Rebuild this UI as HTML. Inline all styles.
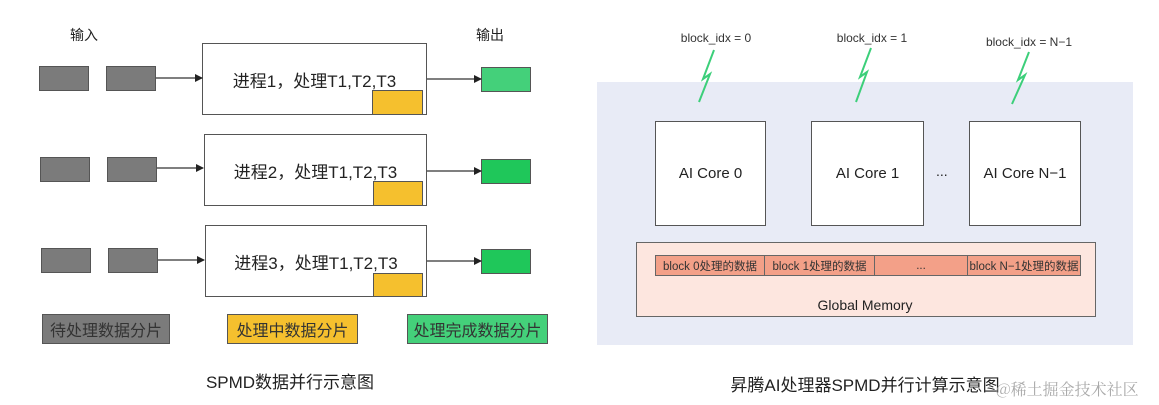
<!DOCTYPE html>
<html><head><meta charset="utf-8"><style>
*{margin:0;padding:0;box-sizing:border-box}
body{width:1159px;height:405px;background:#fff;position:relative;overflow:hidden;font-family:"Liberation Sans","Noto Sans CJK SC",sans-serif;color:#222}
.a{position:absolute}
.g{background:#7b7b7b;border:1.5px solid #555}
.y{background:#f5c02e;border:1.5px solid #555}
.gr{background:#1fc75a;border:1.5px solid #555}
.p{background:#fff;border:1.5px solid #555}
.t{position:absolute;white-space:nowrap}
.c{display:flex;align-items:center;justify-content:center}
</style></head><body>
<div class="t" style="left:70px;top:25px;font-size:14px">输入</div>
<div class="t" style="left:476px;top:25px;font-size:14px">输出</div>

<div class="a g" style="left:39px;top:66px;width:50px;height:25px"></div>
<div class="a g" style="left:106px;top:66px;width:50px;height:25px"></div>
<div class="a g" style="left:40px;top:157px;width:50px;height:25px"></div>
<div class="a g" style="left:107px;top:157px;width:50px;height:25px"></div>
<div class="a g" style="left:41px;top:248px;width:50px;height:25px"></div>
<div class="a g" style="left:108px;top:248px;width:50px;height:25px"></div>

<div class="a p c" style="left:202px;top:43px;width:225px;height:72px;font-size:17px;padding-bottom:0">进程1，处理T1,T2,T3</div>
<div class="a p c" style="left:204px;top:134px;width:223px;height:72px;font-size:17px">进程2，处理T1,T2,T3</div>
<div class="a p c" style="left:205px;top:225px;width:222px;height:72px;font-size:17px">进程3，处理T1,T2,T3</div>
<div class="a y" style="left:372px;top:90px;width:51px;height:25px"></div>
<div class="a y" style="left:373px;top:181px;width:50px;height:25px"></div>
<div class="a y" style="left:373px;top:273px;width:50px;height:24px"></div>

<div class="a gr" style="left:481px;top:67px;width:50px;height:25px;background:#44d07a"></div>
<div class="a gr" style="left:481px;top:159px;width:50px;height:25px"></div>
<div class="a gr" style="left:481px;top:249px;width:50px;height:25px"></div>

<div class="a g c" style="left:42px;top:314px;width:128px;height:30px;font-size:16px;color:#333">待处理数据分片</div>
<div class="a y c" style="left:227px;top:314px;width:131px;height:30px;font-size:16px;color:#333">处理中数据分片</div>
<div class="a gr c" style="left:407px;top:314px;width:141px;height:30px;font-size:16px;background:#44d07a;color:#333">处理完成数据分片</div>
<div class="t" style="left:200px;top:368px;width:180px;text-align:center;font-size:17px">SPMD数据并行示意图</div>

<div class="a" style="left:597px;top:82px;width:536px;height:263px;background:#e8ebf6"></div>
<div class="a p c" style="left:655px;top:121px;width:111px;height:105px;font-size:15px">AI Core 0</div>
<div class="a p c" style="left:811px;top:121px;width:113px;height:105px;font-size:15px">AI Core 1</div>
<div class="a p c" style="left:969px;top:121px;width:112px;height:105px;font-size:15px">AI Core N−1</div>
<div class="t" style="left:936px;top:163px;font-size:14px">...</div>

<div class="a" style="left:636px;top:242px;width:460px;height:75px;background:#fde6df;border:1.5px solid #666"></div>
<div class="a" style="left:655px;top:255px;width:426px;height:21px;background:#f3a088;border:1.5px solid #666;display:flex;font-size:11.5px;color:#333">
<div class="c" style="width:109px;border-right:1px solid #666">block 0处理的数据</div>
<div class="c" style="width:110px;border-right:1px solid #666">block 1处理的数据</div>
<div class="c" style="width:93px;border-right:1px solid #666">...</div>
<div class="c" style="flex:1">block N−1处理的数据</div>
</div>
<div class="t" style="left:790px;top:297px;width:150px;text-align:center;font-size:14px">Global Memory</div>

<div class="t" style="left:666px;top:31px;width:100px;text-align:center;font-size:12px;color:#333">block_idx = 0</div>
<div class="t" style="left:822px;top:31px;width:100px;text-align:center;font-size:12px;color:#333">block_idx = 1</div>
<div class="t" style="left:979px;top:35px;width:100px;text-align:center;font-size:12px;color:#333">block_idx = N−1</div>

<svg class="a" style="left:0;top:0" width="1159" height="405">
<defs><marker id="m" markerWidth="8" markerHeight="8" refX="7" refY="4" orient="auto" markerUnits="userSpaceOnUse"><path d="M0,0L8,4L0,8z" fill="#222"/></marker></defs>
<g stroke="#333" stroke-width="1.3" fill="none" marker-end="url(#m)">
<line x1="156" y1="78" x2="202" y2="78"/>
<line x1="157" y1="168" x2="203" y2="168"/>
<line x1="158" y1="260" x2="204" y2="260"/>
<line x1="427" y1="79" x2="481" y2="79"/>
<line x1="427" y1="171" x2="481" y2="171"/>
<line x1="427" y1="261" x2="481" y2="261"/>
</g>
<g stroke="#3ccf7a" stroke-width="2" fill="none" stroke-linejoin="miter">
<polyline points="714,50 703,79 710,74 699,102"/>
<polyline points="871,48 860,77 867,72 856,102"/>
<polyline points="1029,52 1018,80 1025,75 1012,104"/>
</g>
</svg>
<div class="t" style="left:700px;top:371px;width:330px;text-align:center;font-size:17px">昇腾AI处理器SPMD并行计算示意图</div>
<div class="t" style="left:996px;top:377px;font-size:16px;color:#aaa;font-family:'Noto Serif CJK SC',serif">@稀土掘金技术社区</div>
</body></html>
